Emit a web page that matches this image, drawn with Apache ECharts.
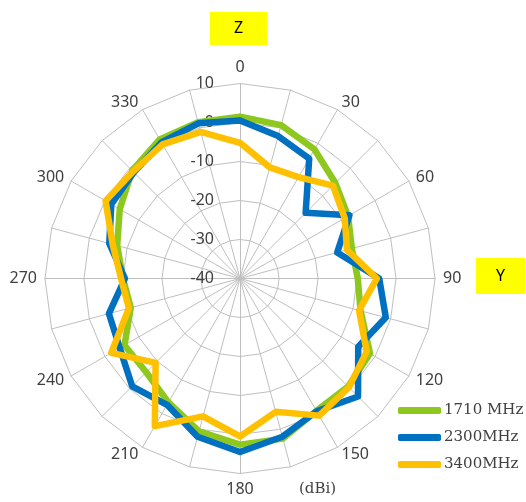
<!DOCTYPE html>
<html><head><meta charset="utf-8">
<script src="https://cdn.jsdelivr.net/npm/echarts@6/dist/echarts.min.js"></script>
<style>html,body{margin:0;padding:0;background:#fff}#c{width:526px;height:502px}</style>
</head><body><div id="c"></div>
<script>
// Angles (degrees, clockwise from top)
const angles = [0,15,30,45,60,75,90,105,120,135,150,165,180,195,210,225,240,255,270,285,300,315,330,345];
// Angular tick labels (every 30 degrees)
const angleLabels = ['0','','30','','60','','90','','120','','150','','180','','210','','240','','270','','300','','330',''];
// Radial ticks (dBi)
const radialMin = -40;
const radialMax = 10;
const radialStep = 10;
const seriesNames = ['1710 MHz', '2300MHz', '3400MHz'];
const gain1710 = [1.5,0.7,-1.8,-5.4,-8,-10.3,-9.8,-8,-1.5,-0.8,-0.8,2.5,2.6,0.6,-3.3,-6,-5.8,-11,-10,-7.4,-4.4,-0.9,1.2,1.5];
const gain2300 = [0.5,-2.2,-4.5,-16.2,-7.6,-14.2,-4.3,-1.3,-5,2.8,-0.7,2.0,4.5,2,-2.6,-0.9,-4.4,-5.2,-10.5,-5.3,-1.9,-1.5,0.3,1.2];
const gain3400 = [-5.2,-10.5,-10,-6.3,-9,-11.6,-4.9,-8.4,-2.5,-0.5,0.6,-4.6,0.5,-3.4,3.7,-9.4,-1.9,-10.5,-9.5,-6.2,-0.2,-1.2,-0.3,-1.1];
const colors = ['#8EC81E', '#0070C0', '#FFC000'];

// ECharts radar places indicators counter-clockwise; reorder so angle increases clockwise
const n = angles.length;
const order = angles.map((a, i) => (n - i) % n);
const reorder = arr => order.map(j => arr[j]);

const chart = echarts.init(document.getElementById('c'), null, {renderer: 'canvas'});
const CENTER = [240, 278.5];
const RADIUS = 195;
const gridColor = '#BFBFBF';
const textColor = '#404040';

chart.setOption({
  animation: false,
  backgroundColor: '#fff',
  title: [
    {text: 'Z', left: 210, top: 12, padding: [8, 24, 9, 24], backgroundColor: '#FFFF00',
     textStyle: {fontFamily: 'Noto Sans', fontSize: 16, fontWeight: 'normal', color: '#000'}},
    {text: 'Y', left: 476, top: 258, padding: [10, 20], backgroundColor: '#FFFF00',
     textStyle: {fontFamily: 'Noto Sans', fontSize: 16, fontWeight: 'normal', color: '#000'}},
    {text: '(dBi)', left: 299, top: 482, padding: 0,
     textStyle: {fontFamily: 'DejaVu Serif', fontSize: 15, fontWeight: 'normal', color: textColor}}
  ],
  legend: {
    orient: 'vertical', left: 393, top: 398, itemWidth: 43, itemHeight: 7, itemGap: 12,
    icon: 'roundRect',
    data: seriesNames,
    textStyle: {fontFamily: 'DejaVu Serif', fontSize: 15, color: textColor, padding: [0,0,0,-2]}
  },
  radar: {
    center: CENTER, radius: RADIUS, startAngle: 90, shape: 'polygon', splitNumber: 5,
    indicator: reorder(angleLabels).map(name => ({name: name, min: radialMin, max: radialMax})),
    axisName: {color: textColor, fontFamily: 'Noto Sans', fontSize: 16},
    nameGap: 8,
    axisLine: {lineStyle: {color: gridColor, width: 1}},
    splitLine: {lineStyle: {color: gridColor, width: 1}},
    splitArea: {show: false},
    axisTick: {show: false},
    axisLabel: {show: false}
  },
  polar: {center: CENTER, radius: RADIUS},
  angleAxis: {type: 'value', min: 0, max: 360, startAngle: 90, show: false},
  radiusAxis: {
    type: 'value', min: radialMin, max: radialMax, interval: radialStep,
    axisLine: {show: false}, axisTick: {show: false}, splitLine: {show: false},
    axisLabel: {show: true, color: textColor, fontFamily: 'Noto Sans', fontSize: 16, margin: 26}
  },
  series: [gain1710, gain2300, gain3400].map((vals, i) => ({
    type: 'radar',
    name: seriesNames[i],
    symbol: 'none',
    z: 2 + i,
    lineStyle: {color: colors[i], width: 6.5, cap: 'round', join: 'round'},
    itemStyle: {color: colors[i]},
    data: [{name: seriesNames[i], value: reorder(vals)}]
  }))
});
</script>
</body></html>
